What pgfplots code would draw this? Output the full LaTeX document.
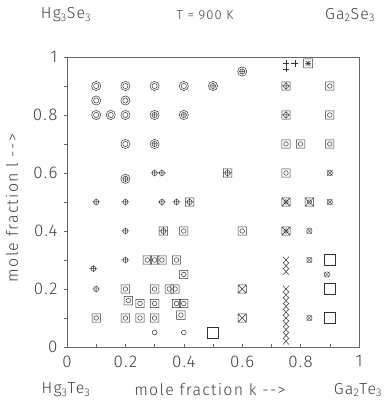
\documentclass[border=0pt]{standalone}
\usepackage{fontspec}
\setmainfont{Fira Sans Light}[LetterSpace=8]
\usepackage{pgfplots}
\pgfplotsset{compat=1.18}

\pgfdeclareplotmark{dcirc}{%
  \pgfpathcircle{\pgfpointorigin}{4.6pt}\pgfpathcircle{\pgfpointorigin}{2.6pt}\pgfusepathqstroke}
\pgfdeclareplotmark{dcircplus}{%
  \pgfpathcircle{\pgfpointorigin}{4.6pt}\pgfpathcircle{\pgfpointorigin}{2.6pt}%
  \pgfpathmoveto{\pgfqpoint{-3.2pt}{0pt}}\pgfpathlineto{\pgfqpoint{3.2pt}{0pt}}%
  \pgfpathmoveto{\pgfqpoint{0pt}{-3.2pt}}\pgfpathlineto{\pgfqpoint{0pt}{3.2pt}}\pgfusepathqstroke}
\pgfdeclareplotmark{cplus}{%
  \pgfpathcircle{\pgfpointorigin}{2.6pt}%
  \pgfpathmoveto{\pgfqpoint{-4pt}{0pt}}\pgfpathlineto{\pgfqpoint{4pt}{0pt}}%
  \pgfpathmoveto{\pgfqpoint{0pt}{-3.5pt}}\pgfpathlineto{\pgfqpoint{0pt}{3.5pt}}\pgfusepathqstroke}
\pgfdeclareplotmark{sqcirc}{%
  \pgfpathrectangle{\pgfqpoint{-4.2pt}{-4.2pt}}{\pgfqpoint{8.4pt}{8.4pt}}%
  \pgfpathcircle{\pgfpointorigin}{2.3pt}\pgfusepathqstroke}
\pgfdeclareplotmark{sqcplus}{%
  \pgfpathrectangle{\pgfqpoint{-4.2pt}{-4.2pt}}{\pgfqpoint{8.4pt}{8.4pt}}%
  \pgfpathcircle{\pgfpointorigin}{2.6pt}%
  \pgfpathmoveto{\pgfqpoint{-4.2pt}{0pt}}\pgfpathlineto{\pgfqpoint{4.2pt}{0pt}}%
  \pgfpathmoveto{\pgfqpoint{0pt}{-4.2pt}}\pgfpathlineto{\pgfqpoint{0pt}{4.2pt}}\pgfusepathqstroke}
\pgfdeclareplotmark{sqxcirc}{%
  \pgfpathrectangle{\pgfqpoint{-4.2pt}{-4.2pt}}{\pgfqpoint{8.4pt}{8.4pt}}%
  \pgfpathcircle{\pgfpointorigin}{2.2pt}%
  \pgfpathmoveto{\pgfqpoint{-4.2pt}{-4.2pt}}\pgfpathlineto{\pgfqpoint{4.2pt}{4.2pt}}%
  \pgfpathmoveto{\pgfqpoint{-4.2pt}{4.2pt}}\pgfpathlineto{\pgfqpoint{4.2pt}{-4.2pt}}\pgfusepathqstroke}
\pgfdeclareplotmark{sqx}{%
  \pgfpathrectangle{\pgfqpoint{-4.2pt}{-4.2pt}}{\pgfqpoint{8.4pt}{8.4pt}}%
  \pgfpathmoveto{\pgfqpoint{-4.2pt}{-4.2pt}}\pgfpathlineto{\pgfqpoint{4.2pt}{4.2pt}}%
  \pgfpathmoveto{\pgfqpoint{-4.2pt}{4.2pt}}\pgfpathlineto{\pgfqpoint{4.2pt}{-4.2pt}}\pgfusepathqstroke}
\pgfdeclareplotmark{ox}{%
  \pgfpathcircle{\pgfpointorigin}{2.7pt}%
  \pgfpathmoveto{\pgfqpoint{-2.7pt}{-2.7pt}}\pgfpathlineto{\pgfqpoint{2.7pt}{2.7pt}}%
  \pgfpathmoveto{\pgfqpoint{-2.7pt}{2.7pt}}\pgfpathlineto{\pgfqpoint{2.7pt}{-2.7pt}}\pgfusepathqstroke}
\pgfdeclareplotmark{xm}{%
  \pgfpathmoveto{\pgfqpoint{-3pt}{-3.3pt}}\pgfpathlineto{\pgfqpoint{3pt}{3.3pt}}%
  \pgfpathmoveto{\pgfqpoint{-3pt}{3.3pt}}\pgfpathlineto{\pgfqpoint{3pt}{-3.3pt}}\pgfusepathqstroke}
\pgfdeclareplotmark{smcirc}{%
  \pgfpathcircle{\pgfpointorigin}{2.4pt}\pgfusepathqstroke}
\pgfdeclareplotmark{bigsq}{%
  \pgfpathrectangle{\pgfqpoint{-5.3pt}{-5.3pt}}{\pgfqpoint{10.6pt}{10.6pt}}\pgfusepathqstroke}
\pgfdeclareplotmark{pl}{%
  \pgfpathmoveto{\pgfqpoint{-3.5pt}{0pt}}\pgfpathlineto{\pgfqpoint{3.5pt}{0pt}}%
  \pgfpathmoveto{\pgfqpoint{0pt}{-3.5pt}}\pgfpathlineto{\pgfqpoint{0pt}{3.5pt}}\pgfusepathqstroke}
\pgfdeclareplotmark{sqast}{%
  \pgfpathrectangle{\pgfqpoint{-4.5pt}{-4.5pt}}{\pgfqpoint{9pt}{9pt}}%
  \pgfpathmoveto{\pgfqpoint{-3pt}{0pt}}\pgfpathlineto{\pgfqpoint{3pt}{0pt}}%
  \pgfpathmoveto{\pgfqpoint{0pt}{-3pt}}\pgfpathlineto{\pgfqpoint{0pt}{3pt}}%
  \pgfpathmoveto{\pgfqpoint{-2.4pt}{-2.4pt}}\pgfpathlineto{\pgfqpoint{2.4pt}{2.4pt}}%
  \pgfpathmoveto{\pgfqpoint{-2.4pt}{2.4pt}}\pgfpathlineto{\pgfqpoint{2.4pt}{-2.4pt}}\pgfusepathqstroke}

\begin{document}
\begin{tikzpicture}[x=1bp,y=1bp]
\path[use as bounding box] (0,0) rectangle (389,410);
\begin{axis}[
  at={(67bp,63bp)}, anchor=south west,
  scale only axis, width=292bp, height=290bp,
  xmin=0, xmax=1, ymin=0, ymax=1,
  clip=false,
  axis line style={black!60, line width=0.6pt},
  tick style={black!60, line width=0.6pt},
  major tick length=3bp, minor tick length=3bp,
  tick pos=left,
  xtick={0,0.2,0.4,0.6,0.8,1},
  ytick={0,0.2,0.4,0.6,0.8,1},
  minor xtick={0.1,0.3,0.5,0.7,0.9},
  minor ytick={0.1,0.3,0.5,0.7,0.9},
  xtick align=inside, ytick align=outside,
  /pgf/number format/assume math mode=true,
  ticklabel style={font=\fontsize{17}{17}\selectfont, text=black!75},
  xticklabel style={yshift=-5bp},
  yticklabel style={xshift=-3bp},
  line width=0.5pt,
]
\addplot[black!80, only marks, mark=dcirc] coordinates {
 (0.1,0.9) (0.2,0.9) (0.3,0.9) (0.4,0.9)
 (0.1,0.85) (0.2,0.85)
 (0.1,0.8) (0.15,0.8) (0.2,0.8)
 (0.2,0.7)};
\addplot[black!80, only marks, mark=dcircplus] coordinates {
 (0.5,0.9) (0.6,0.95) (0.3,0.8) (0.4,0.8) (0.3,0.7) (0.2,0.58)};
\addplot[black!80, only marks, mark=cplus] coordinates {
 (0.3,0.6) (0.325,0.6)
 (0.1,0.5) (0.2,0.5) (0.325,0.5) (0.375,0.5)
 (0.2,0.4) (0.2,0.3) (0.09,0.27) (0.1,0.2)};
\addplot[black!80, only marks, mark=sqcplus] coordinates {
 (0.55,0.6) (0.42,0.5) (0.33,0.4) (0.75,0.9) (0.75,0.8)};
\addplot[black!80, only marks, mark=sqcirc] coordinates {
 (0.9,0.9) (0.9,0.8)
 (0.75,0.7) (0.8,0.7) (0.9,0.7)
 (0.75,0.6)
 (0.6,0.4) (0.4,0.4)
 (0.275,0.3) (0.3,0.3) (0.325,0.3) (0.375,0.3)
 (0.4,0.25)
 (0.2,0.2) (0.3,0.2) (0.35,0.2) (0.37,0.2)
 (0.21,0.16) (0.25,0.15) (0.3,0.15) (0.375,0.15) (0.4,0.15)
 (0.1,0.1) (0.2,0.1) (0.25,0.1) (0.3,0.1) (0.39,0.11)};
\addplot[black!80, only marks, mark=sqxcirc] coordinates {
 (0.75,0.5) (0.83,0.5) (0.75,0.4)};
\addplot[black!70, only marks, mark=ox] coordinates {
 (0.9,0.6) (0.9,0.5) (0.83,0.4) (0.83,0.3) (0.89,0.25) (0.83,0.1)};
\addplot[black!80, only marks, mark=sqx] coordinates {
 (0.6,0.2) (0.6,0.1)};
\addplot[black!80, only marks, mark=xm] coordinates {
 (0.75,0.3) (0.75,0.28) (0.75,0.26)
 (0.75,0.2) (0.75,0.18) (0.75,0.16) (0.75,0.14) (0.75,0.12)
 (0.75,0.1) (0.75,0.08) (0.75,0.06) (0.75,0.04) (0.75,0.02)};
\addplot[black!80, only marks, mark=smcirc] coordinates {
 (0.3,0.05) (0.4,0.05)};
\addplot[black!80, only marks, mark=bigsq] coordinates {
 (0.5,0.05) (0.9,0.3) (0.9,0.2) (0.9,0.1)};
\addplot[black!80, only marks, mark=pl] coordinates {
 (0.75,0.978) (0.75,0.959) (0.78,0.978)};
\addplot[black!80, only marks, mark=sqast] coordinates {
 (0.826,0.978)};
\end{axis}
\begin{scope}[every node/.style={text=black!75, inner sep=0pt}]
\node[font=\fontsize{16}{16}\selectfont] at (66,395) {Hg\textsubscript{3}Se\textsubscript{3}};
\node[font=\fontsize{13}{13}\selectfont] at (205,395) {T = 900 K};
\node[font=\fontsize{16}{16}\selectfont] at (350,395) {Ga\textsubscript{2}Se\textsubscript{3}};
\node[font=\fontsize{16}{16}\selectfont] at (66,20) {Hg\textsubscript{3}Te\textsubscript{3}};
\node[font=\fontsize{16}{16}\selectfont] at (210,20) {mole fraction k -{}-{}>};
\node[font=\fontsize{16}{16}\selectfont] at (358,20) {Ga\textsubscript{2}Te\textsubscript{3}};
\node[font=\fontsize{16}{16}\selectfont, rotate=90] at (12,202) {mole fraction l -{}-{}>};
\end{scope}
\end{tikzpicture}
\end{document}
